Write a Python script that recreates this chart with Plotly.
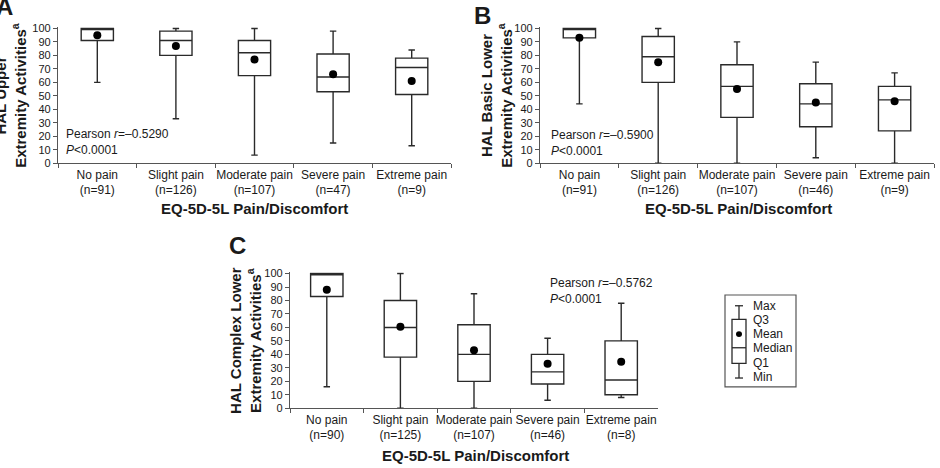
import plotly.graph_objects as go

W, H = 940, 468

categories = ["No pain", "Slight pain", "Moderate pain", "Severe pain", "Extreme pain"]

# Panel A: HAL Upper Extremity Activities
n_a = [91, 126, 107, 47, 9]
min_a = [60, 33, 6, 15, 13]
q1_a = [91, 80, 65, 53, 51]
median_a = [100, 91, 82, 64, 71]
q3_a = [100, 98, 91, 81, 78]
max_a = [100, 100, 100, 98, 84]
mean_a = [95, 87, 77, 66, 61]

# Panel B: HAL Basic Lower Extremity Activities
n_b = [91, 126, 107, 46, 9]
min_b = [44, 0, 0, 4, 0]
q1_b = [93, 60, 34, 27, 24]
median_b = [100, 79, 57, 44, 47]
q3_b = [100, 94, 73, 59, 57]
max_b = [100, 100, 90, 75, 67]
mean_b = [93, 75, 55, 45, 46]

# Panel C: HAL Complex Lower Extremity Activities
n_c = [90, 125, 107, 46, 8]
min_c = [16, 0, 0, 6, 8]
q1_c = [83, 38, 20, 18, 10]
median_c = [99, 60, 40, 27, 21]
q3_c = [100, 80, 62, 40, 50]
max_c = [100, 100, 85, 52, 78]
mean_c = [88, 60.5, 43, 33, 34.5]

pearson_a = "Pearson <i>r</i>=–0.5290<br><i>P</i>&lt;0.0001"
pearson_b = "Pearson <i>r</i>=–0.5900<br><i>P</i>&lt;0.0001"
pearson_c = "Pearson <i>r</i>=–0.5762<br><i>P</i>&lt;0.0001"

FONT = "Liberation Sans, Arial, sans-serif"
TXT = "#1a1a1a"
BOXC = "#2a2a2a"
AXC = "#555555"


def fx(x):
    return x / W


def fy(y):
    return 1 - y / H


def labels(ns):
    return [f"{c}<br>(n={n})" for c, n in zip(categories, ns)]


fig = go.Figure()

panels = [
    ("x", "y", n_a, min_a, q1_a, median_a, q3_a, max_a, mean_a, 0.41),
    ("x2", "y2", n_b, min_b, q1_b, median_b, q3_b, max_b, mean_b, 0.41),
    ("x3", "y3", n_c, min_c, q1_c, median_c, q3_c, max_c, mean_c, 0.44),
]

for xa, ya, ns, mn, q1, md, q3, mx, mean, bw in panels:
    labs = labels(ns)
    fig.add_trace(go.Box(
        x=labs, q1=q1, median=md, q3=q3, lowerfence=mn, upperfence=mx,
        xaxis=xa, yaxis=ya, boxpoints=False, fillcolor="white",
        line=dict(color=BOXC, width=1.4), whiskerwidth=0.2, width=bw,
        showlegend=False, hoverinfo="skip",
    ))
    fig.add_trace(go.Scatter(
        x=labs, y=mean, xaxis=xa, yaxis=ya, mode="markers",
        marker=dict(color="black", size=8), showlegend=False, hoverinfo="skip",
    ))

# domains (pixel based)
dom = {
    "A": dict(x=[fx(58), fx(451)], y=[fy(162), fy(22.62)]),
    "B": dict(x=[fx(540), fx(934)], y=[fy(162), fy(22.62)]),
    "C": dict(x=[fx(290), fx(658)], y=[fy(413), fy(273.62)]),
}

def xaxis_cfg(d, anchor):
    return dict(domain=d["x"], anchor=anchor, type="category", range=[-0.5, 4.5],
                showline=True, linecolor=AXC, linewidth=1.2, ticks="outside",
                tickson="boundaries", ticklen=4, tickcolor=AXC, tickwidth=1.2,
                showgrid=False, zeroline=False, tickangle=0,
                tickfont=dict(family=FONT, size=12, color=TXT), fixedrange=True)


def yaxis_cfg(d, anchor):
    return dict(domain=d["y"], anchor=anchor, range=[0, 101],
                tickvals=list(range(0, 101, 10)),
                showline=True, linecolor=AXC, linewidth=1.2, ticks="outside",
                ticklen=4, tickcolor=AXC, tickwidth=1.2, showgrid=False,
                zeroline=False, tickfont=dict(family=FONT, size=11, color=TXT),
                fixedrange=True)


annotations = []


def ann(text, x, y, size=12, xanchor="center", yanchor="middle", angle=0, align="center"):
    annotations.append(dict(text=text, x=fx(x), y=fy(y), xref="paper", yref="paper",
                            showarrow=False, xanchor=xanchor, yanchor=yanchor,
                            textangle=angle, align=align,
                            font=dict(family=FONT, size=size, color=TXT)))

# panel letters
ann("<b>A</b>", 4, 2, size=24)
ann("<b>B</b>", 482, 11, size=24)
ann("<b>C</b>", 238, 246, size=24)

# y titles
ann("<b>HAL Upper<br>Extremity Activities<sup>a</sup></b>", 11, 93, size=15, angle=-90)
ann("<b>HAL Basic Lower<br>Extremity Activities<sup>a</sup></b>", 497, 93, size=15, angle=-90)
ann("<b>HAL Complex Lower<br>Extremity Activities<sup>a</sup></b>", 246, 344, size=15, angle=-90)

# x titles
ann("<b>EQ-5D-5L Pain/Discomfort</b>", 254, 208, size=15)
ann("<b>EQ-5D-5L Pain/Discomfort</b>", 738, 208, size=15)
ann("<b>EQ-5D-5L Pain/Discomfort</b>", 475, 461, size=15)

# pearson
ann(pearson_a, 64, 140, xanchor="left", align="left")
ann(pearson_b, 549, 141, xanchor="left", align="left")
ann(pearson_c, 548, 293, xanchor="left", align="left")

# key labels
key_labels = ["Max", "Q3", "Mean", "Median", "Q1", "Min"]
key_y = [308, 323, 337, 351, 367, 381]
for t, yy in zip(key_labels, key_y):
    ann(t, 751, yy, xanchor="left")

shapes = []


def line(x0, y0, x1, y1, color=BOXC, w=1.3):
    shapes.append(dict(type="line", xref="paper", yref="paper",
                       x0=fx(x0), y0=fy(y0), x1=fx(x1), y1=fy(y1),
                       line=dict(color=color, width=w)))

# key box
shapes.append(dict(type="rect", xref="paper", yref="paper", x0=fx(725), x1=fx(796),
                   y0=fy(391), y1=fy(297), line=dict(color=AXC, width=1.2),
                   fillcolor="white", layer="below"))
line(739, 308, 739, 322)
line(739, 367, 739, 382)
line(735, 308, 743, 308)
line(735, 382, 743, 382)
shapes.append(dict(type="rect", xref="paper", yref="paper", x0=fx(732), x1=fx(746),
                   y0=fy(367), y1=fy(322), line=dict(color=BOXC, width=1.3)))
line(732, 351, 746, 351)
shapes.append(dict(type="circle", xref="paper", yref="paper", x0=fx(736), x1=fx(742),
                   y0=fy(340), y1=fy(334), fillcolor="black", line=dict(color="black", width=0)))

fig.update_layout(
    width=W, height=H, margin=dict(l=0, r=0, t=0, b=0),
    paper_bgcolor="white", plot_bgcolor="white",
    xaxis=xaxis_cfg(dom["A"], "y"), yaxis=yaxis_cfg(dom["A"], "x"),
    xaxis2=xaxis_cfg(dom["B"], "y2"), yaxis2=yaxis_cfg(dom["B"], "x2"),
    xaxis3=xaxis_cfg(dom["C"], "y3"), yaxis3=yaxis_cfg(dom["C"], "x3"),
    annotations=annotations, shapes=shapes, showlegend=False,
    font=dict(family=FONT, color=TXT),
)

fig.write_html("out.html")
